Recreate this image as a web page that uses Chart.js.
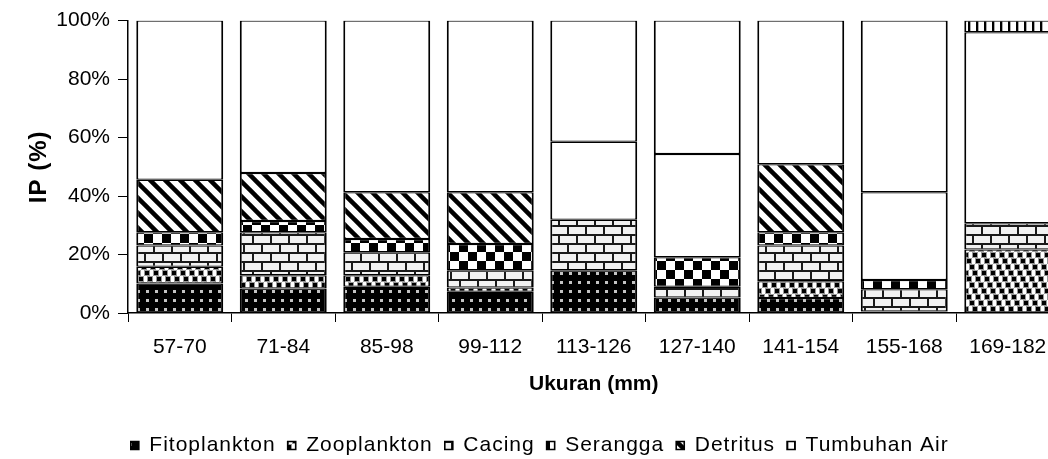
<!DOCTYPE html>
<html>
<head>
<meta charset="utf-8">
<script src="https://cdn.jsdelivr.net/npm/chart.js@4.4.1/dist/chart.umd.min.js"></script>
<style>
  html, body { margin: 0; padding: 0; background: #fff; overflow: hidden; }
  #wrap { width: 1062px; height: 459px; }
</style>
</head>
<body>
<div id="wrap"><canvas id="ipChart" width="1062" height="459"></canvas></div>
<script>
// Data (percent of IP per size class)
const categories = ["57-70", "71-84", "85-98", "99-112", "113-126", "127-140", "141-154", "155-168", "169-182"];
const fitoplankton = [10.1, 8.4, 9.0, 7.3, 14.6, 5.3, 5.1, 0.5, 0];
const zooplankton = [5.7, 4.5, 3.9, 1.4, 0, 0, 5.8, 0, 21.7];
const cacing = [7.3, 14.7, 7.9, 5.9, 17.3, 3.7, 12.2, 7.6, 9.0];
const serangga = [4.5, 3.9, 4.5, 9.0, 0, 10.1, 4.5, 3.2, 0];
const detritus = [18.0, 16.4, 16.0, 17.7, 0, 0, 23.3, 0, 0];
// two plain white series with no legend entry
const seriLainBawah = [0, 0, 0, 0, 26.7, 35.3, 0, 30.0, 0];
const seriLainAtas = [54.4, 52.1, 58.7, 58.7, 41.4, 45.6, 49.1, 58.7, 65.3];
const tumbuhanAir = [0, 0, 0, 0, 0, 0, 0, 0, 4.0];
const yTicks = [0, 20, 40, 60, 80, 100];

const FONT = "'Liberation Sans', Arial, sans-serif";

// 8x8 bitmap pattern scaled up (like the old spreadsheet fills)
function bitmapPattern(rows, fg, bg, size) {
  const src = document.createElement("canvas");
  src.width = 8;
  src.height = 8;
  const s = src.getContext("2d");
  s.fillStyle = bg;
  s.fillRect(0, 0, 8, 8);
  s.fillStyle = fg;
  rows.forEach((row, y) => {
    for (let x = 0; x < 8; x++) if (row[x] === "1") s.fillRect(x, y, 1, 1);
  });
  const tile = document.createElement("canvas");
  tile.width = size;
  tile.height = size;
  const t = tile.getContext("2d");
  t.imageSmoothingEnabled = false;
  t.drawImage(src, 0, 0, size, size);
  return t.createPattern(tile, "repeat");
}

function confettiPattern() {
  const c = document.createElement("canvas");
  c.width = 18;
  c.height = 18;
  const g = c.getContext("2d");
  g.fillStyle = "#fff";
  g.fillRect(0, 0, 18, 18);
  const spots = [[1, 1], [10, 1], [4, 7], [13, 7], [7, 13], [16, 13]];
  g.fillStyle = "#999";
  spots.forEach(([x, y]) => {
    for (const dx of [-18, 0, 18]) g.fillRect(x - 1 + dx, y - 1, 6, 6);
  });
  g.fillStyle = "#000";
  spots.forEach(([x, y]) => {
    for (const dx of [-18, 0, 18]) g.fillRect(x + dx, y, 4, 4);
  });
  return g.createPattern(c, "repeat");
}

function diagonalPattern() {
  const n = 15;
  const c = document.createElement("canvas");
  c.width = n;
  c.height = n;
  const g = c.getContext("2d");
  g.fillStyle = "#fff";
  g.fillRect(0, 0, n, n);
  g.strokeStyle = "#000";
  g.lineWidth = 4.5;
  for (let k = -1; k <= 1; k++) {
    g.beginPath();
    g.moveTo(k * n - 2, -2);
    g.lineTo(k * n + n + 2, n + 2);
    g.stroke();
  }
  return g.createPattern(c, "repeat");
}

function verticalPattern() {
  const c = document.createElement("canvas");
  c.width = 8;
  c.height = 8;
  const g = c.getContext("2d");
  g.fillStyle = "#fff";
  g.fillRect(0, 0, 8, 8);
  g.fillStyle = "#000";
  g.fillRect(0, 0, 2, 8);
  g.fillStyle = "#aaa";
  g.fillRect(2, 0, 1, 8);
  return g.createPattern(c, "repeat");
}

const fitoFill = bitmapPattern(
  ["00000000", "01000100", "00000000", "00000000", "00000000", "01000100", "00000000", "00000000"],
  "#c4c4c4", "#000", 18);
const zooFill = confettiPattern();
const brickFill = bitmapPattern(
  ["11111111", "10000000", "10000000", "10000000", "11111111", "00001000", "00001000", "00001000"],
  "#1a1a1a", "#f2f2f2", 18);
const checkFill = bitmapPattern(
  ["11110000", "11110000", "11110000", "11110000", "00001111", "00001111", "00001111", "00001111"],
  "#000", "#fff", 18);
const diagFill = diagonalPattern();
const vertFill = verticalPattern();

function series(label, data, fill) {
  return {
    label: label,
    data: data,
    backgroundColor: fill,
    borderColor: "#000",
    borderWidth: { top: 1.25, bottom: 1.25, left: 2, right: 2 },
    borderSkipped: false,
  };
}

// the legend text and y title in the figure are set wide; add a little letter spacing
function withSpacing(chart, spacing, fn, shiftX) {
  return function () {
    const c = chart.ctx;
    const prev = c.letterSpacing;
    c.save();
    c.letterSpacing = spacing;
    if (shiftX) c.translate(shiftX, 0);
    fn();
    c.restore();
    c.letterSpacing = prev;
  };
}

const spacingPlugin = {
  id: "spacing",
  afterLayout(chart) {
    const lg = chart.legend;
    if (lg && !lg._spaced) {
      lg._spaced = true;
      lg.fit = withSpacing(chart, "1px", lg.fit.bind(lg), 0);
      lg.draw = withSpacing(chart, "1px", lg.draw.bind(lg), 10);
      chart.update("none");
    }
    const ys = chart.scales.y;
    if (ys && !ys._spaced) {
      ys._spaced = true;
      ys.drawTitle = withSpacing(chart, "1px", ys.drawTitle.bind(ys), 0);
    }
  },
};

const ctx = document.getElementById("ipChart").getContext("2d");

new Chart(ctx, {
  type: "bar",
  data: {
    labels: categories,
    datasets: [
      series("Fitoplankton", fitoplankton, fitoFill),
      series("Zooplankton", zooplankton, zooFill),
      series("Cacing", cacing, brickFill),
      series("Serangga", serangga, checkFill),
      series("Detritus", detritus, diagFill),
      series("", seriLainBawah, "#fff"),
      series("", seriLainAtas, "#fff"),
      series("Tumbuhan Air", tumbuhanAir, vertFill),
    ],
  },
  options: {
    responsive: false,
    animation: false,
    devicePixelRatio: 1,
    barPercentage: 0.84,
    categoryPercentage: 1.0,
    layout: { padding: { top: 19, right: 2.5, left: 0, bottom: -7 } },
    plugins: {
      tooltip: { enabled: false },
      legend: {
        position: "bottom",
        labels: {
          boxWidth: 8,
          boxHeight: 8,
          padding: 12,
          color: "#000",
          font: { family: FONT, size: 21 },
          filter: (item) => item.text !== "",
        },
      },
    },
    scales: {
      x: {
        stacked: true,
        grid: { drawOnChartArea: false, drawTicks: true, tickLength: 9, color: "#000", lineWidth: 1, offset: true },
        border: { display: true, color: "#000", width: 1.5 },
        ticks: { color: "#000", font: { family: FONT, size: 21 }, padding: 13, maxRotation: 0, autoSkip: false },
        title: {
          display: true,
          text: "Ukuran (mm)",
          color: "#000",
          font: { family: FONT, size: 21, weight: "bold" },
          padding: { top: 0, bottom: 26 },
        },
        afterFit(scale) {
          scale.height = 110;
        },
      },
      y: {
        stacked: true,
        min: 0,
        max: 100,
        afterBuildTicks(scale) {
          scale.ticks = yTicks.map((v) => ({ value: v }));
        },
        ticks: { color: "#000", font: { family: FONT, size: 21 }, padding: 8, callback: (v) => v + "%" },
        grid: { drawOnChartArea: false, drawTicks: true, tickLength: 10, color: "#000", lineWidth: 1 },
        border: { display: true, color: "#000", width: 1.5 },
        title: {
          display: true,
          text: "IP (%)",
          color: "#000",
          font: { family: FONT, size: 24, weight: "bold" },
          padding: { top: 25, bottom: 0 },
        },
        afterFit(scale) {
          scale.width = 128;
        },
      },
    },
  },
  plugins: [spacingPlugin],
});
</script>
</body>
</html>
